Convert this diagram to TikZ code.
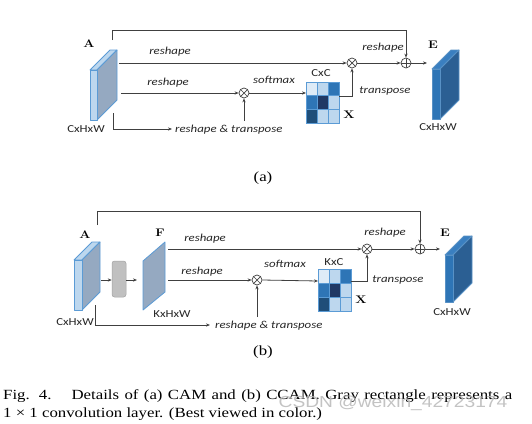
\documentclass[tikz,border=0pt]{standalone}
\usepackage{fontspec}
\usepackage{graphicx}
\newfontfamily\lab[FakeStretch=1.2]{Carlito}
\newfontfamily\capf[FakeStretch=1.2]{Liberation Serif}
\newfontfamily\wmf[FakeStretch=1.2]{Liberation Sans}
\usetikzlibrary{arrows.meta}
\definecolor{lb}{HTML}{BDD7EE}
\definecolor{eb}{HTML}{5B9BD5}
\definecolor{sl}{HTML}{95A9C1}
\definecolor{ef}{HTML}{2E75B6}
\definecolor{es}{HTML}{2B5F93}
\definecolor{et}{HTML}{3A7FC0}
\definecolor{m1}{HTML}{DEEBF7}
\definecolor{m2}{HTML}{BDD7EE}
\definecolor{m3}{HTML}{2E75B6}
\definecolor{m4}{HTML}{203864}
\definecolor{m5}{HTML}{1F4E79}
\definecolor{lncol}{HTML}{404040}
\definecolor{grayblk}{HTML}{C0C0C0}
\tikzset{
  arr/.style={draw=lncol, line width=0.8pt, -{Stealth[length=4pt,width=3.2pt]}},
  wire/.style={draw=lncol, line width=0.8pt},
  lbl/.style={font=\lab\itshape\fontsize{10.7}{12}\selectfont, inner sep=0pt, text=black!85},
  dimt/.style={font=\lab\fontsize{10.7}{12}\selectfont, inner sep=0pt, text=black!85},
  big/.style={font=\bfseries\fontsize{11}{11}\selectfont, inner sep=0pt},
  mul/.style={circle, draw=lncol, line width=0.7pt, minimum size=10pt, inner sep=0pt,
    path picture={\draw[lncol, line width=0.7pt] (path picture bounding box.north west)--(path picture bounding box.south east) (path picture bounding box.south west)--(path picture bounding box.north east);}},
  add/.style={circle, draw=lncol, line width=0.7pt, minimum size=10pt, inner sep=0pt,
    path picture={\draw[lncol, line width=0.7pt] (path picture bounding box.north)--(path picture bounding box.south) (path picture bounding box.west)--(path picture bounding box.east);}},
  capt/.style={font=\capf\fontsize{14}{18}\selectfont, inner sep=0pt}
}
% #1 x, #2 y (front top-left), #3 w, #4 h, #5 depth, #6 front, #7 side, #8 top, #9 edge
\newcommand\cubeblk[9]{%
  \filldraw[fill=#8, draw=#9, line width=0.8pt, line join=round] (#1,#2) -- ++(#5,-#5) -- ++(#3,0) -- ++(-#5,#5) -- cycle;
  \filldraw[fill=#7, draw=#9, line width=0.8pt, line join=round] (#1+#3,#2) -- ++(#5,-#5) -- ++(0,#4) -- ++(-#5,#5) -- cycle;
  \filldraw[fill=#6, draw=#9, line width=0.8pt, line join=round] (#1,#2) rectangle ++(#3,#4);
}
% #1 x0, #2 y0, #3 cell height
\newcommand\cmat[3]{%
  \foreach \c [count=\i from 0] in {m1,m2,m3,m3,m4,m2,m5,m2,m2} {
    \pgfmathtruncatemacro\cc{mod(\i,3)}
    \pgfmathtruncatemacro\rr{div(\i,3)}
    \filldraw[fill=\c, draw=eb, line width=0.8pt] (#1+\cc*11, #2+\rr*#3) rectangle ++(11,#3);
  }
}
\begin{document}
\begin{tikzpicture}[x=1pt,y=-1pt]
\useasboundingbox (0,0) rectangle (532,423);
\fill[white] (0,0) rectangle (532,423);

%%%%%%%%%%%%%%%% (a)
\cubeblk{90}{70}{7}{50}{20}{lb}{sl}{lb}{eb}
\node[big] (lA) at (89,44) {\scalebox{1.2}[1]{A}};
\node[dimt] (dA) at (86,129) {CxHxW};

\node[mul] (mA1) at (352,63) {};
\node[add] (pA) at (406,63) {};
\node[mul] (mA2) at (244,93) {};

\coordinate (tA0) at (112,40);
\coordinate (tA1) at (112,30);
\coordinate (tA2) at (406,30);
\draw[arr] (tA0) -- (tA1) -- (tA2) -- (pA.north);

\coordinate (rA1) at (119,63);
\draw[arr] (rA1) -- (mA1.west);
\node[lbl] (lrA1) at (170,52) {reshape};

\coordinate (rA2) at (121,93);
\draw[arr] (rA2) -- (mA2.west);
\node[lbl] (lrA2) at (168,83) {reshape};

\coordinate (bA0) at (113,113);
\coordinate (bA1) at (113,129);
\coordinate (bA2) at (172,129);
\draw[arr] (bA0) -- (bA1) -- (bA2);
\node[lbl, anchor=west] (lrtA) at (175,129.5) {reshape \& transpose};
\coordinate (uA) at (244,121);
\draw[arr] (uA) -- (mA2.south);

\node[lbl] (smA) at (274,80) {softmax};
\cmat{306}{82}{13.67}
\coordinate (matAw) at (306,93);
\coordinate (matAe) at (339,96);
\coordinate (matAc) at (352,96);
\draw[arr] (mA2.east) -- (matAw);
\draw[arr] (matAe) -- (matAc) -- (mA1.south);
\node[dimt] (ccA) at (321,73) {CxC};
\node[big] (xA) at (349,115) {\scalebox{1.2}[1]{X}};
\node[lbl] (trA) at (385,91) {transpose};

\draw[arr] (mA1.east) -- (pA.west);
\node[lbl] (lrA3) at (383,48) {reshape};
\coordinate (eAin) at (427,63);
\draw[arr] (pA.east) -- (eAin);

\cubeblk{432}{69}{8}{50}{19}{ef}{es}{et}{ef!80!white}
\node[big] (lE) at (433,45) {\scalebox{1.2}[1]{E}};
\node[dimt] (dE) at (438,127) {CxHxW};

\node[capt] (capa) at (263,178) {(a)};

%%%%%%%%%%%%%%%% (b)
\cubeblk{74}{260}{8}{50}{18}{lb}{sl}{lb}{eb}
\node[big] (lB) at (85,235) {\scalebox{1.2}[1]{A}};
\node[dimt] (dB) at (75,322) {CxHxW};

\node[draw=grayblk!85!black, fill=grayblk, line width=0.5pt, rounded corners=2.5pt, minimum width=14pt, minimum height=36pt, inner sep=0pt] (conv) at (119,279) {};
\coordinate (bAo) at (101,280);
\draw[arr] (bAo) -- (conv.west |- bAo);
\coordinate (fIn) at (137,280);
\draw[arr] (conv.east |- fIn) -- (fIn);

\filldraw[fill=sl, draw=eb, line width=0.8pt, line join=round] (143,261) -- (165,242) -- (165,292) -- (143,310) -- cycle;
\node[big] (lF) at (160,233) {\scalebox{1.2}[1]{F}};
\node[dimt] (dF) at (172,314) {KxHxW};

\node[mul] (mB1) at (367,249) {};
\node[add] (pB) at (420,249) {};
\node[mul] (mB2) at (257,280) {};

\coordinate (tB0) at (97,225);
\coordinate (tB1) at (97,211);
\coordinate (tB2) at (420,211);
\draw[arr] (tB0) -- (tB1) -- (tB2) -- (pB.north);

\coordinate (rB1) at (168,249);
\draw[arr] (rB1) -- (mB1.west);
\node[lbl] (lrB1) at (205,239) {reshape};

\coordinate (rB2) at (168,280);
\draw[arr] (rB2) -- (mB2.west);
\node[lbl] (lrB2) at (202,272) {reshape};

\coordinate (bB0) at (95,305);
\coordinate (bB1) at (95,325);
\coordinate (bB2) at (210,325);
\draw[arr] (bB0) -- (bB1) -- (bB2);
\node[lbl, anchor=west] (lrtB) at (215,325.5) {reshape \& transpose};
\coordinate (uB) at (257,317);
\draw[arr] (uB) -- (mB2.south);

\node[lbl] (smB) at (285,264) {softmax};
\cmat{318}{269}{14}
\coordinate (matBw) at (318,281);
\coordinate (matBe) at (351,281);
\coordinate (matBc) at (367,281);
\draw[arr] (mB2.east) -- (matBw);
\draw[arr] (matBe) -- (matBc) -- (mB1.south);
\node[dimt] (kcB) at (334,262) {KxC};
\node[big] (xB) at (361,300) {\scalebox{1.2}[1]{X}};
\node[lbl] (trB) at (398,280) {transpose};

\draw[arr] (mB1.east) -- (pB.west);
\node[lbl] (lrB3) at (385,233) {reshape};
\coordinate (eBin) at (440,249);
\draw[arr] (pB.east) -- (eBin);

\cubeblk{445}{255}{8}{47}{19}{ef}{es}{et}{ef!80!white}
\node[big] (lE2) at (445,233) {\scalebox{1.2}[1]{E}};
\node[dimt] (dE2) at (452,312) {CxHxW};

\node[capt] (capb) at (263,352) {(b)};

%%%%%%%%%%%%%%%% caption
\node[capt, anchor=base west] (cap1) at (3,399.5) {\makebox[509pt][s]{Fig. 4.\hspace*{20pt}Details of (a) CAM and (b) CCAM. Gray rectangle represents a}};
\node[capt, anchor=base west] (cap2) at (3,417.5) {1 × 1 convolution layer. (Best viewed in color.)};
\node[font=\wmf\fontsize{16}{16}\selectfont, text=gray!55, opacity=0.85, inner sep=0pt] (wm) at (393,403) {CSDN @weixin\_42723174};
\end{tikzpicture}
\end{document}
